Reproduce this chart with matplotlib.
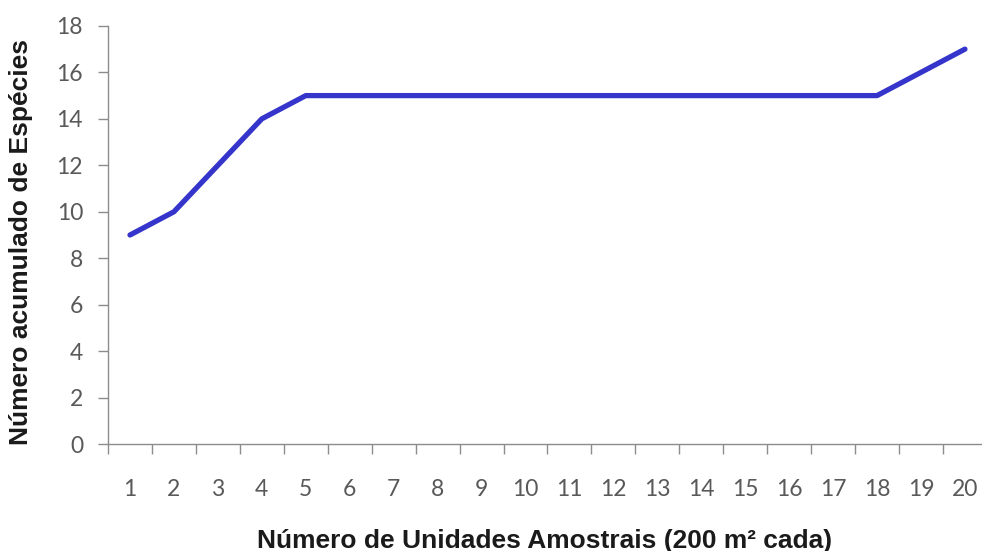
import numpy as np
import matplotlib.pyplot as plt
from matplotlib.ticker import FixedLocator

# dados
unidades = list(range(1, 21))
especies = [9, 10, 12, 14, 15, 15, 15, 15, 15, 15,
            15, 15, 15, 15, 15, 15, 15, 15, 16, 17]
y_ticks = list(range(0, 19, 2))

axis_gray = '#8c8c8c'
text_gray = '#595959'

fig = plt.figure(figsize=(9.82, 5.51), dpi=100)
ax = fig.add_axes([0.110, 0.194, 0.895, 0.759])

ax.plot(unidades, especies, color='#3535cc', lw=3.8,
        solid_capstyle='round', solid_joinstyle='round', zorder=3)

ax.set_xlim(0.5, 20.5)
ax.set_ylim(0, 18)

# eixo x estilo categoria: marcas entre as categorias
ax.set_xticks(unidades)
ax.set_xticklabels([str(u) for u in unidades])
ax.xaxis.set_minor_locator(FixedLocator(np.arange(0.5, 21, 1)))
ax.tick_params(axis='x', which='major', length=0, pad=25)
ax.tick_params(axis='x', which='minor', length=7.5, color=axis_gray, width=1)
ax.set_yticks(y_ticks)
ax.tick_params(axis='y', length=7, color=axis_gray, width=1, pad=11)

for lab in ax.get_xticklabels() + ax.get_yticklabels():
    lab.set_fontfamily('Lato')
    lab.set_fontsize(16.5)
    lab.set_color(text_gray)

for s in ['top', 'right']:
    ax.spines[s].set_visible(False)
for s in ['left', 'bottom']:
    ax.spines[s].set_color(axis_gray)
    ax.spines[s].set_linewidth(1)

ax.set_xlabel('Número de Unidades Amostrais (200 m² cada)',
              fontfamily='Liberation Sans', fontweight='bold',
              fontsize=19, color='#1a1a1a')
ax.xaxis.set_label_coords(0.497, -0.202)
ax.set_ylabel('Número acumulado de Espécies',
              fontfamily='Liberation Sans', fontweight='bold',
              fontsize=19, color='#1a1a1a')
ax.yaxis.set_label_coords(-0.085, 0.483)

fig.savefig('out.png', dpi=100)
